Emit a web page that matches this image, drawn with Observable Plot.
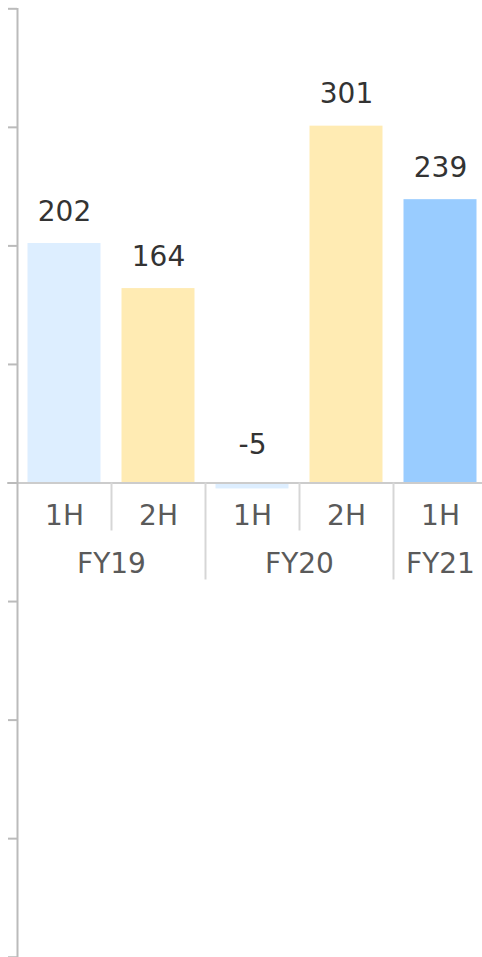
<!DOCTYPE html>
<html>
<head>
<meta charset="utf-8">
<script src="https://cdn.jsdelivr.net/npm/d3@7"></script>
<script src="https://cdn.jsdelivr.net/npm/@observablehq/plot@0.6"></script>
<style>
  html, body { margin: 0; padding: 0; background: #fff; }
  #chart svg { display: block; }
</style>
</head>
<body>
<div id="chart"></div>
<script>
// Data
const years  = ["FY19", "FY19", "FY20", "FY20", "FY21"];
const halves = ["1H", "2H", "1H", "2H", "1H"];
const values = [202, 164, -5, 301, 239];
const yTicks = [-400, -300, -200, -100, 0, 100, 200, 300, 400];

const n = values.length;
const rows = values.map((v, i) => ({
  i, year: years[i], half: halves[i], value: v,
  key: i === n - 1 ? "latest" : halves[i]
}));

// year groups (start/end index in slot units)
const groups = [];
years.forEach((y, i) => {
  const g = groups[groups.length - 1];
  if (g && g.name === y) g.end = i + 1;
  else groups.push({name: y, start: i, end: i + 1});
});
const groupBounds = groups.slice(1).map(g => g.start);
const innerBounds = d3.range(1, n).filter(b => !groupBounds.includes(b));

const font = "DejaVu Sans, Verdana, sans-serif";

const chart = Plot.plot({
  width: 482,
  height: 957,
  marginLeft: 17,
  marginRight: 0,
  marginTop: 8,
  marginBottom: 0,
  style: {fontFamily: font, background: "#fff"},
  x: {type: "linear", domain: [0, n], range: [17, 487], axis: null},
  y: {domain: [-400, 400], range: [956.7, 8.3], axis: null},
  color: {type: "ordinal", domain: ["1H", "2H", "latest"], range: ["#ddeeff", "#ffebb3", "#99ccff"]},
  marks: [
    Plot.rectY(rows, {x1: "i", x2: d => d.i + 1, y: "value", fill: "key", insetLeft: 10.5, insetRight: 10.5}),
    Plot.ruleY([0], {stroke: "#cccccc", strokeWidth: 2, insetLeft: -10}),
    Plot.ruleX(innerBounds, {x: d => d, y1: 0, y2: 0, insetBottom: -48, stroke: "#d6d6d6", strokeWidth: 2}),
    Plot.ruleX(groupBounds, {x: d => d, y1: 0, y2: 0, insetBottom: -97, stroke: "#d6d6d6", strokeWidth: 2}),
    Plot.axisY(yTicks, {tickSize: 9, stroke: "#bbbbbb", strokeWidth: 2, fill: "none", label: null}),
    Plot.ruleX([0], {stroke: "#bbbbbb", strokeWidth: 2}),
    Plot.text(rows, {x: d => d.i + 0.5, y: d => Math.abs(d.value), text: d => String(d.value),
      lineAnchor: "bottom", dy: -23, fontSize: 28, fill: "#333333"}),
    Plot.text(rows, {x: d => d.i + 0.5, y: () => 0, text: "half",
      lineAnchor: "bottom", dy: 42, fontSize: 28, fill: "#5a5a5a"}),
    Plot.text(groups, {x: d => (d.start + d.end) / 2, y: () => 0, text: "name",
      lineAnchor: "bottom", dy: 90, fontSize: 28, fill: "#5a5a5a"})
  ]
});
document.getElementById("chart").appendChild(chart);
</script>
</body>
</html>
